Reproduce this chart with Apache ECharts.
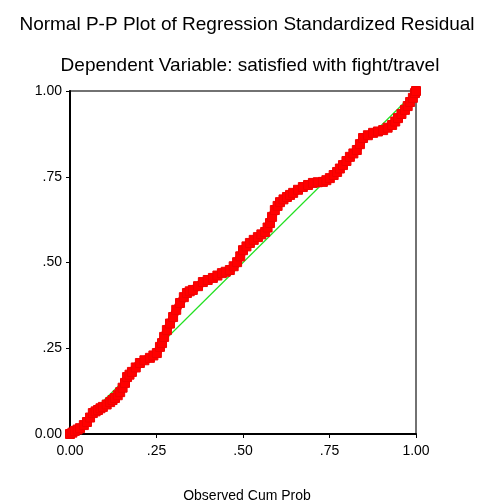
<!DOCTYPE html>
<html>
<head>
<meta charset="utf-8">
<script src="https://cdn.jsdelivr.net/npm/echarts@6/dist/echarts.min.js"></script>
<style>
  html, body { margin: 0; padding: 0; background: #fff; }
  #chart { width: 480px; height: 501px; }
</style>
</head>
<body>
<div id="chart"></div>
<script>
// observed cum prob (x) and expected cum prob (y)
var observed = [
  0.000, 0.007, 0.014, 0.022, 0.029, 0.040, 0.049, 0.058, 0.066, 0.074,
  0.081, 0.088, 0.095, 0.106, 0.116, 0.123, 0.130, 0.138, 0.145, 0.152,
  0.159, 0.165, 0.172, 0.179, 0.190, 0.202, 0.215, 0.231, 0.241, 0.251,
  0.260, 0.266, 0.272, 0.280, 0.289, 0.298, 0.307, 0.318, 0.329, 0.338,
  0.346, 0.355, 0.370, 0.384, 0.398, 0.413, 0.426, 0.439, 0.450, 0.462,
  0.473, 0.483, 0.492, 0.500, 0.510, 0.520, 0.531, 0.543, 0.553, 0.564,
  0.571, 0.578, 0.584, 0.592, 0.600, 0.607, 0.617, 0.627, 0.636, 0.645,
  0.659, 0.673, 0.688, 0.702, 0.716, 0.731, 0.741, 0.751, 0.762, 0.772,
  0.780, 0.789, 0.799, 0.809, 0.819, 0.829, 0.838, 0.847, 0.861, 0.876,
  0.890, 0.905, 0.918, 0.931, 0.940, 0.948, 0.958, 0.968, 0.976, 0.983,
  0.991, 0.997, 1.000
];
var expected = [
  0.000, 0.004, 0.009, 0.013, 0.017, 0.026, 0.035, 0.048, 0.061, 0.066,
  0.070, 0.075, 0.079, 0.086, 0.093, 0.099, 0.105, 0.113, 0.122, 0.135,
  0.149, 0.166, 0.173, 0.181, 0.194, 0.207, 0.215, 0.222, 0.229, 0.236,
  0.254, 0.265, 0.283, 0.303, 0.322, 0.341, 0.362, 0.382, 0.399, 0.411,
  0.416, 0.420, 0.431, 0.443, 0.449, 0.455, 0.462, 0.469, 0.473, 0.478,
  0.489, 0.501, 0.518, 0.536, 0.547, 0.557, 0.566, 0.574, 0.582, 0.589,
  0.602, 0.615, 0.633, 0.653, 0.665, 0.676, 0.684, 0.691, 0.697, 0.703,
  0.712, 0.720, 0.726, 0.732, 0.734, 0.735, 0.740, 0.746, 0.755, 0.764,
  0.774, 0.784, 0.796, 0.808, 0.818, 0.828, 0.845, 0.863, 0.871, 0.878,
  0.882, 0.886, 0.893, 0.901, 0.911, 0.921, 0.933, 0.945, 0.956, 0.968,
  0.980, 0.994, 1.000
];
var diagonal = [[0, 0], [1, 1]];
var tickValues = [0, 0.25, 0.5, 0.75, 1];
var tickLabels = ["0.00", ".25", ".50", ".75", "1.00"];

var points = observed.map(function(x, i) { return [x, expected[i]]; });

function tickText(v) {
  for (var i = 0; i < tickValues.length; i++) {
    if (Math.abs(tickValues[i] - v) < 1e-6) return tickLabels[i];
  }
  return "";
}

var myChart = echarts.init(document.getElementById("chart"));

var font = "Liberation Sans";
var axisCommon = {
  type: "value",
  min: 0,
  max: 1,
  interval: 0.25,
  splitLine: { show: false },
  axisLine: { show: true, lineStyle: { color: "#000", width: 2 } },
  axisTick: { show: true, length: 4, lineStyle: { color: "#000", width: 1 } },
  axisLabel: {
    color: "#000",
    fontSize: 14,
    fontFamily: font,
    formatter: tickText
  }
};

var option = {
  animation: false,
  title: [
    {
      text: "Normal P-P Plot of Regression Standardized Residual",
      left: 242,
      textAlign: "center",
      top: 10,
      textStyle: { fontSize: 19, fontWeight: "normal", color: "#000", fontFamily: font }
    },
    {
      text: "Dependent Variable: satisfied with fight/travel",
      left: 245,
      textAlign: "center",
      top: 51,
      textStyle: { fontSize: 19, fontWeight: "normal", color: "#000", fontFamily: font }
    },
    {
      text: "Observed Cum Prob",
      left: 242,
      textAlign: "center",
      top: 484,
      textStyle: { fontSize: 14, fontWeight: "normal", color: "#000", fontFamily: font }
    }
  ],
  grid: {
    left: 70,
    right: 64,
    top: 91,
    bottom: 67,
    show: true,
    borderColor: "#444",
    borderWidth: 1.5,
    backgroundColor: "transparent"
  },
  xAxis: Object.assign({}, axisCommon, {
    axisLabel: Object.assign({}, axisCommon.axisLabel, { margin: 10 })
  }),
  yAxis: Object.assign({}, axisCommon, {
    axisLabel: Object.assign({}, axisCommon.axisLabel, { margin: 8 })
  }),
  series: [
    {
      type: "line",
      data: diagonal,
      symbol: "none",
      lineStyle: { color: "#22e022", width: 1.2 },
      z: 2
    },
    {
      type: "line",
      data: points,
      symbol: "rect",
      symbolSize: 9,
      showSymbol: true,
      lineStyle: { color: "#ff0000", width: 8.5 },
      itemStyle: { color: "#ff0000", borderColor: "#f00000", borderWidth: 1 },
      z: 3
    }
  ]
};

myChart.setOption(option);
window.addEventListener("resize", function() {
  myChart.resize();
});
</script>
</body>
</html>
